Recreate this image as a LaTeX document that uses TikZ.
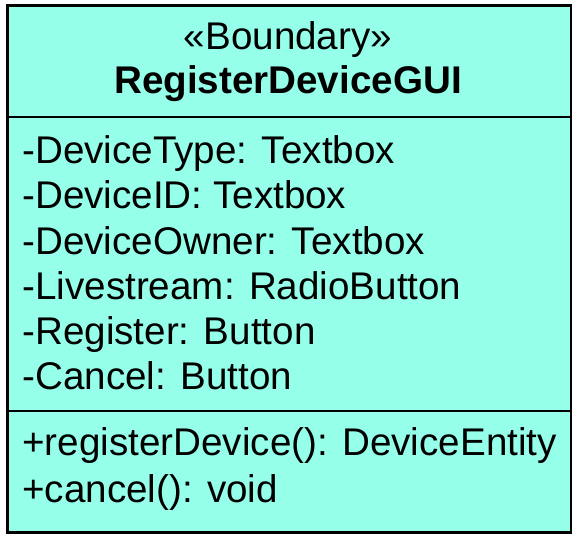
\documentclass[tikz,border=0pt]{standalone}
\usepackage{fontspec}
\setmainfont{Liberation Sans}
\usetikzlibrary{positioning}
\definecolor{gui}{RGB}{150,255,234}
\begin{document}
\begin{tikzpicture}[x=0.5pt,y=-0.5pt]
		\tikzstyle{member}=[anchor=base west, inner sep=0pt, font=\fontsize{19.3}{22.5}\selectfont]
		\tikzstyle{title}=[anchor=base, inner sep=0pt, font=\fontsize{19.3}{22.5}\selectfont]
		\tikzstyle{sep}=[line width=1.3pt]
		\useasboundingbox (0,0) rectangle (572,534);
		\node[draw, line width=1.5pt, fill=gui, minimum width=282pt, minimum height=263.5pt, inner sep=0pt, anchor=north west] (cls) at (6,4) {};
		
		\node[title] (stereo) at (288,50) {«Boundary»};
		\node[title, font=\fontsize{19.3}{22.5}\selectfont\bfseries] (name) at (288,94) {RegisterDeviceGUI};
		
		\coordinate (a1) at (6,117);
		\coordinate (a2) at (570,117);
		\coordinate (m1) at (6,411);
		\coordinate (m2) at (570,411);
		\draw[sep] (a1) -- (a2);
		\draw[sep] (m1) -- (m2);
		
		\node[member] (type) at (22,164) {-DeviceType: Textbox};
		\node[member] (id) at (22,209) {-DeviceID: Textbox};
		\node[member] (owner) at (22,254) {-DeviceOwner: Textbox};
		\node[member] (live) at (22,299) {-Livestream: RadioButton};
		\node[member] (reg) at (22,344) {-Register: Button};
		\node[member] (cancel) at (22,389) {-Cancel: Button};
		
		\node[member] (regdev) at (22,455) {+registerDevice(): DeviceEntity};
		\node[member] (cancelop) at (22,502) {+cancel(): void};
		
	\end{tikzpicture}
\end{document}
